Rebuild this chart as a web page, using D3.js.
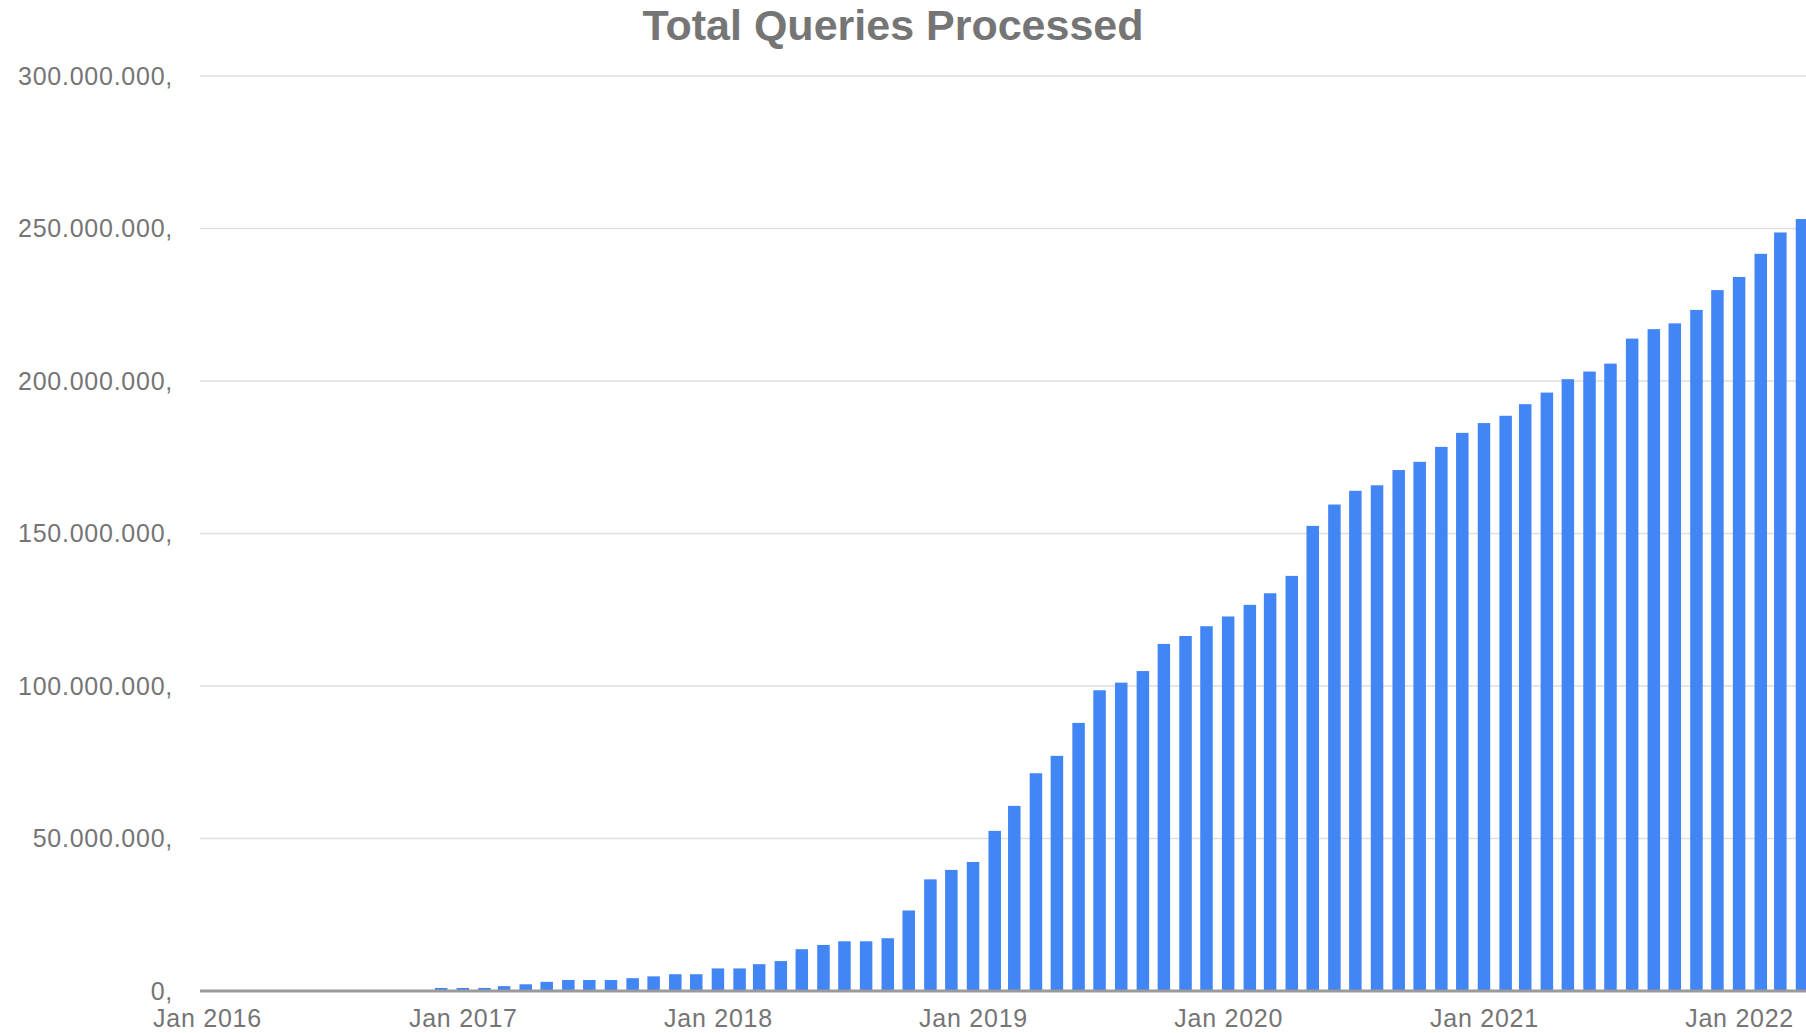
<!DOCTYPE html>
<html>
<head>
<meta charset="utf-8">
<title>Total Queries Processed</title>
<script src="https://cdn.jsdelivr.net/npm/d3@7"></script>
<style>
  html, body { margin: 0; padding: 0; background: #ffffff; overflow: hidden; }
  svg { display: block; }
  text { font-family: "Liberation Sans", Arial, Helvetica, sans-serif; }
</style>
</head>
<body>
<svg id="chart" width="1806" height="1033"></svg>
<script>
// Monthly cumulative totals of processed queries
const chartTitle = "Total Queries Processed";

const months = [
  "2016-12",
  "2017-01", "2017-02", "2017-03", "2017-04", "2017-05", "2017-06",
  "2017-07", "2017-08", "2017-09", "2017-10", "2017-11", "2017-12",
  "2018-01", "2018-02", "2018-03", "2018-04", "2018-05", "2018-06",
  "2018-07", "2018-08", "2018-09", "2018-10", "2018-11", "2018-12",
  "2019-01", "2019-02", "2019-03", "2019-04", "2019-05", "2019-06",
  "2019-07", "2019-08", "2019-09", "2019-10", "2019-11", "2019-12",
  "2020-01", "2020-02", "2020-03", "2020-04", "2020-05", "2020-06",
  "2020-07", "2020-08", "2020-09", "2020-10", "2020-11", "2020-12",
  "2021-01", "2021-02", "2021-03", "2021-04", "2021-05", "2021-06",
  "2021-07", "2021-08", "2021-09", "2021-10", "2021-11", "2021-12",
  "2022-01", "2022-02", "2022-03", "2022-04"
];

const totalQueries = [
  1000000,
  1000000, 1000000, 1600000, 2200000, 3000000, 3600000,
  3600000, 3600000, 4200000, 4800000, 5500000, 5500000,
  7400000, 7400000, 8800000, 9800000, 13700000, 15100000,
  16300000, 16300000, 17300000, 26400000, 36600000, 39700000,
  42300000, 52500000, 60700000, 71400000, 77100000, 87900000,
  98600000, 101100000, 104900000, 113800000, 116400000, 119600000,
  122800000, 126600000, 130400000, 136100000, 152500000, 159500000,
  164000000, 165800000, 170800000, 173500000, 178400000, 183000000,
  186200000, 188600000, 192400000, 196200000, 200600000, 203100000,
  205700000, 213900000, 217000000, 218900000, 223300000, 229800000,
  234100000, 241700000, 248700000, 253100000
];

const yTickValues = [0, 50000000, 100000000, 150000000, 200000000, 250000000, 300000000];
const xTickYears = [2016, 2017, 2018, 2019, 2020, 2021, 2022];

// Layout
const W = 1806, H = 1033;
const plotLeft = 200, plotRight = W;
const baseY = 991, topY = 76;
const labelColor = "#757575";
const tickFontSize = 25;
const tickSpacing = 0.75;

const parseMonth = d3.timeParse("%Y-%m");
const data = months.map((m, i) => ({ date: parseMonth(m), value: totalQueries[i] }));

const svg = d3.select("#chart");

const x = d3.scaleTime()
  .domain([new Date(2016, 0, 1), new Date(2022, 3, 1)])
  .range([207, 1802]);

const y = d3.scaleLinear()
  .domain([0, 300000000])
  .range([baseY, topY]);

const barWidth = 12.5;

// Horizontal gridlines
svg.append("g")
  .selectAll("line")
  .data(yTickValues.filter(v => v > 0))
  .join("line")
  .attr("x1", plotLeft)
  .attr("x2", plotRight)
  .attr("y1", d => y(d))
  .attr("y2", d => y(d))
  .attr("stroke", "#dedede")
  .attr("stroke-width", 1.6);

// Bars
svg.append("g")
  .selectAll("rect")
  .data(data)
  .join("rect")
  .attr("x", d => x(d.date) - barWidth / 2)
  .attr("y", d => y(d.value))
  .attr("width", barWidth)
  .attr("height", d => y(0) - y(d.value))
  .attr("fill", "#4285f4");

// Zero baseline
svg.append("line")
  .attr("x1", plotLeft)
  .attr("x2", plotRight)
  .attr("y1", y(0))
  .attr("y2", y(0))
  .attr("stroke", "#9a9a9a")
  .attr("stroke-width", 3);

// Y axis labels: dotted thousands with trailing comma
const fmtY = v => d3.format(",")(v).replace(/,/g, ".") + ",";
const yAxis = svg.append("g")
  .attr("transform", "translate(173,0)")
  .call(d3.axisLeft(y).tickValues(yTickValues).tickFormat(fmtY).tickSize(0).tickPadding(0));
yAxis.select(".domain").remove();
yAxis.selectAll("text")
  .attr("fill", labelColor)
  .attr("font-size", tickFontSize)
  .attr("letter-spacing", tickSpacing)
  .style("font-family", "'Liberation Sans', Arial, sans-serif");

// X axis labels: one per January
const xAxis = svg.append("g")
  .attr("transform", `translate(0,${baseY})`)
  .call(d3.axisBottom(x)
    .tickValues(xTickYears.map(yr => new Date(yr, 0, 1)))
    .tickFormat(d3.timeFormat("Jan %Y"))
    .tickSize(0)
    .tickPadding(18));
xAxis.select(".domain").remove();
xAxis.selectAll("text")
  .attr("fill", labelColor)
  .attr("font-size", tickFontSize)
  .attr("letter-spacing", tickSpacing)
  .style("font-family", "'Liberation Sans', Arial, sans-serif");

// Title
svg.append("text")
  .attr("x", 893)
  .attr("y", 40)
  .attr("text-anchor", "middle")
  .attr("font-size", 43)
  .attr("font-weight", "bold")
  .attr("fill", labelColor)
  .text(chartTitle);
</script>
</body>
</html>
